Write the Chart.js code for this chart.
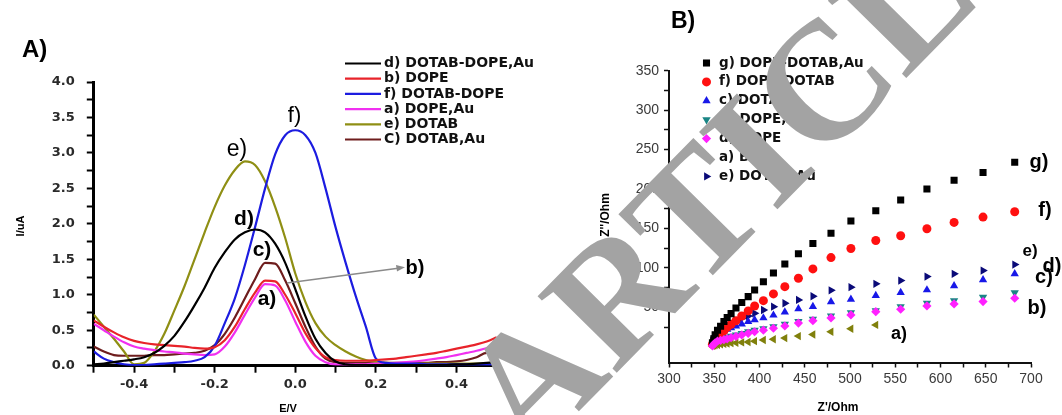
<!DOCTYPE html>
<html>
<head>
<meta charset="utf-8">
<script src="https://cdn.jsdelivr.net/npm/chart.js@4.4.1/dist/chart.umd.min.js"></script>
<style>
  html, body { margin: 0; padding: 0; background: #fff; }
  #wrap { position: relative; width: 1062px; height: 415px; overflow: hidden; }
  .panel { position: absolute; top: 0; height: 415px; }
  #pa { left: 0; width: 560px; }
  #pb { left: 531px; width: 531px; }
  #mark { position: absolute; left: 0; top: 0; pointer-events: none; }
</style>
</head>
<body>
<div id="wrap">
  <div class="panel" id="pa"><canvas id="cvA"></canvas></div>
  <div class="panel" id="pb"><canvas id="cvB"></canvas></div>
  <canvas id="mark" width="1062" height="415"></canvas>
</div>
<script>
  // ---- Panel A: voltammograms (E / V vs I / uA) ----
  const potential = [-0.5, -0.475, -0.45, -0.425, -0.4, -0.375, -0.35, -0.325, -0.3, -0.275,
    -0.25, -0.225, -0.2, -0.175, -0.15, -0.125, -0.1, -0.075, -0.05, -0.025,
    0, 0.025, 0.05, 0.075, 0.1, 0.125, 0.15, 0.175, 0.2, 0.225,
    0.25, 0.275, 0.3, 0.325, 0.35, 0.375, 0.4, 0.425, 0.45, 0.475, 0.5];

  const curDotabDopeAu = [0.02, 0.03, 0.05, 0.07, 0.09, 0.12, 0.18, 0.28, 0.42, 0.62,
    0.85, 1.1, 1.38, 1.6, 1.78, 1.88, 1.92, 1.88, 1.72, 1.45,
    1.08, 0.7, 0.38, 0.18, 0.06, 0.02, 0.01, 0.01, 0.01, 0.01,
    0.01, 0.01, 0.01, 0.01, 0.01, 0.01, 0.02, 0.02, 0.03, 0.04, 0.05];
  const curDope = [0.64, 0.55, 0.47, 0.4, 0.35, 0.32, 0.3, 0.29, 0.28, 0.27,
    0.25, 0.24, 0.26, 0.36, 0.55, 0.8, 1.03, 1.2, 1.19, 1.0,
    0.74, 0.46, 0.25, 0.12, 0.08, 0.07, 0.07, 0.07, 0.08, 0.09,
    0.1, 0.12, 0.14, 0.16, 0.18, 0.21, 0.24, 0.27, 0.3, 0.34, 0.4];
  const curDotabDope = [0.2, 0.1, 0.05, 0.02, 0.01, 0.01, 0.02, 0.03, 0.04, 0.05,
    0.07, 0.12, 0.28, 0.6, 0.95, 1.42, 1.95, 2.5, 2.98, 3.25,
    3.32, 3.25, 3.0, 2.5, 1.95, 1.45, 0.98, 0.55, 0.1, 0.04,
    0.03, 0.03, 0.03, 0.02, 0.02, 0.02, 0.02, 0.02, 0.02, 0.02, 0.02];
  const curDopeAu = [0.59, 0.5, 0.41, 0.33, 0.27, 0.24, 0.22, 0.2, 0.19, 0.17,
    0.16, 0.15, 0.16, 0.27, 0.47, 0.72, 0.96, 1.15, 1.13, 0.92,
    0.62, 0.34, 0.14, 0.05, 0.02, 0.02, 0.02, 0.02, 0.03, 0.03,
    0.04, 0.05, 0.06, 0.08, 0.1, 0.12, 0.15, 0.18, 0.21, 0.25, 0.29];
  const curDotab = [0.72, 0.55, 0.38, 0.2, 0.02, 0.04, 0.2, 0.45, 0.78, 1.12,
    1.5, 1.88, 2.24, 2.54, 2.76, 2.88, 2.83, 2.6, 2.24, 1.8,
    1.3, 0.9, 0.6, 0.41, 0.29, 0.2, 0.13, 0.08, 0.05, 0.04,
    0.03, 0.03, 0.03, 0.03, 0.03, 0.03, 0.03, 0.03, 0.03, 0.03, 0.03];
  const curDotabAu = [0.27, 0.2, 0.15, 0.14, 0.14, 0.14, 0.15, 0.15, 0.16, 0.17,
    0.18, 0.21, 0.29, 0.45, 0.68, 0.95, 1.22, 1.45, 1.44, 1.2,
    0.88, 0.55, 0.27, 0.1, 0.05, 0.04, 0.04, 0.04, 0.04, 0.04,
    0.04, 0.04, 0.04, 0.04, 0.05, 0.05, 0.06, 0.08, 0.12, 0.18, 0.18];

  const seriesA = [
    { label: "d) DOTAB-DOPE,Au", color: "#000000", values: curDotabDopeAu },
    { label: "b) DOPE", color: "#e8232a", values: curDope },
    { label: "f) DOTAB-DOPE", color: "#1c1ce0", values: curDotabDope },
    { label: "a) DOPE,Au", color: "#f030f0", values: curDopeAu },
    { label: "e) DOTAB", color: "#8f8f14", values: curDotab },
    { label: "C) DOTAB,Au", color: "#6e1d1d", values: curDotabAu }
  ];

  // ---- Panel B: Nyquist plots (Z' / Ohm vs Z'' / Ohm) ----
  const zReal = [348, 349.5, 351, 353.6, 357, 360.7, 364.3, 368.6, 374, 380.4,
    387.5, 394.6, 404.3, 415.4, 428, 443, 459, 479, 501, 528.5,
    556, 585, 615, 647, 682];

  const zImDopeDotabAu = [5, 10, 15, 21, 26, 32, 37, 42, 49, 56,
    63.5, 72, 82.5, 93.5, 105, 118, 131, 144, 159.5, 172.5,
    186, 200, 211, 221, 234];
  const zImDopeDotab = [3, 6, 9.4, 12.7, 17, 20.3, 24.7, 28.5, 33, 39,
    45.4, 51.7, 58.4, 67, 76.2, 86.9, 98.7, 113, 124.5, 134.7,
    140.7, 149.6, 157.6, 164.4, 171.2];
  const zImDotab = [6, 9, 12, 15, 17.5, 20, 22, 24, 26.3, 28.8,
    31.8, 34, 36.5, 40, 44, 48, 51, 57, 60.2, 64.8,
    68.6, 72, 77.1, 84.8, 92.4];
  const zImDopeAu = [2, 4, 6, 8, 9.5, 11, 12, 13.5, 15, 17,
    19, 21, 23, 25.5, 28.5, 32, 35, 39, 43.2, 45.7,
    50.8, 55.1, 58.4, 62.8, 68.6];
  const zImDope = [1, 3, 5, 7, 8, 9, 10, 11.5, 13, 15,
    17, 19, 21, 23.4, 26.3, 30, 33, 36.5, 40.3, 44.5,
    47.5, 51.7, 54.3, 57.2, 61.5];
  const zImBare = [1, 1.5, 2, 2.5, 3, 3.5, 4, 4.5, 5, 5.5,
    6, 7, 8.5, 9.5, 11, 13.5, 15.5, 19, 22.8, 27.6,
    null, null, null, null, null];
  const zImDotabAu = [7, 10, 13.6, 17, 20.3, 23.4, 26.7, 29.7, 33, 36,
    39, 42.4, 46.6, 50.8, 55.1, 59.3, 64, 71.5, 75.5, 79.7,
    83.9, 88.9, 92.4, 96.6, 104.2];

  const seriesB = [
    { label: "g) DOPE-DOTAB,Au", color: "#000000", shape: "rect", rot: 0, r: 5, values: zImDopeDotabAu },
    { label: "f) DOPE-DOTAB", color: "#ff1010", shape: "circle", rot: 0, r: 4.5, values: zImDopeDotab },
    { label: "c) DOTAB", color: "#1818e8", shape: "triangle", rot: 0, r: 4.8, values: zImDotab },
    { label: "b) DOPE,Au", color: "#1a8585", shape: "triangle", rot: 180, r: 4.8, values: zImDopeAu },
    { label: "d) DOPE", color: "#ff20ff", shape: "rectRot", rot: 0, r: 4.6, values: zImDope },
    { label: "a) Bare", color: "#80800c", shape: "triangle", rot: -90, r: 4.8, values: zImBare },
    { label: "e) DOTAB,Au", color: "#0a0a78", shape: "triangle", rot: 90, r: 4.8, values: zImDotabAu }
  ];

  function drawMarker(ctx, s, x, y) {
    ctx.save();
    ctx.fillStyle = s.color;
    ctx.beginPath();
    if (s.shape === "rect") {
      const h = s.r * Math.SQRT1_2;
      ctx.rect(x - h, y - h, 2 * h, 2 * h);
    } else if (s.shape === "circle") {
      ctx.arc(x, y, s.r, 0, Math.PI * 2);
    } else if (s.shape === "rectRot") {
      ctx.moveTo(x, y - s.r); ctx.lineTo(x + s.r, y);
      ctx.lineTo(x, y + s.r); ctx.lineTo(x - s.r, y);
      ctx.closePath();
    } else {
      let a = s.rot * Math.PI / 180;
      for (let k = 0; k < 3; k++) {
        const px = x + Math.sin(a) * s.r, py = y - Math.cos(a) * s.r;
        k === 0 ? ctx.moveTo(px, py) : ctx.lineTo(px, py);
        a += Math.PI * 2 / 3;
      }
      ctx.closePath();
    }
    ctx.fill();
    ctx.restore();
  }

  function label(ctx, text, x, y, font, opts) {
    ctx.save();
    ctx.font = font;
    ctx.fillStyle = (opts && opts.color) || "#000";
    ctx.textAlign = (opts && opts.align) || "center";
    ctx.textBaseline = "middle";
    ctx.translate(x, y);
    if (opts && opts.rotate) ctx.rotate(opts.rotate);
    ctx.fillText(text, 0, 0);
    ctx.restore();
  }

  const overlayA = {
    id: "overlayA",
    afterDraw(chart) {
      const ctx = chart.ctx;
      label(ctx, "A)", 22, 50, "bold 24px 'Liberation Sans'", { align: "left" });
      label(ctx, "I/uA", 21, 226, "bold 11px 'Liberation Sans'", { rotate: -Math.PI / 2 });
      label(ctx, "E/V", 288, 409, "bold 11px 'Liberation Sans'");
      // legend
      seriesA.forEach((s, i) => {
        const y = 63.5 + i * 15.2;
        ctx.save();
        ctx.strokeStyle = s.color;
        ctx.lineWidth = 2.2;
        ctx.beginPath(); ctx.moveTo(345, y); ctx.lineTo(381, y); ctx.stroke();
        ctx.restore();
        label(ctx, s.label, 384, y, "bold 14px 'DejaVu Sans'", { align: "left", color: "#111" });
      });
      // curve tags
      label(ctx, "f)", 294.5, 116, "22px 'Liberation Sans'");
      label(ctx, "e)", 237, 149.5, "23px 'Liberation Sans'");
      label(ctx, "d)", 244, 219, "bold 21px 'Liberation Sans'");
      label(ctx, "c)", 262, 250, "bold 21px 'Liberation Sans'");
      label(ctx, "a)", 267, 299, "bold 21px 'Liberation Sans'");
      label(ctx, "b)", 415, 268, "bold 20px 'Liberation Sans'");
      // arrow to b)
      ctx.save();
      ctx.strokeStyle = "#8a8a8a"; ctx.fillStyle = "#8a8a8a"; ctx.lineWidth = 1.4;
      ctx.beginPath(); ctx.moveTo(287, 283); ctx.lineTo(400, 268); ctx.stroke();
      ctx.beginPath(); ctx.moveTo(405, 267.3); ctx.lineTo(396, 265); ctx.lineTo(397, 271.5); ctx.closePath(); ctx.fill();
      ctx.restore();
    }
  };

  const overlayB = {
    id: "overlayB",
    afterDraw(chart) {
      const ctx = chart.ctx;
      label(ctx, "B)", 140, 22, "bold 23px 'Liberation Sans'", { align: "left" });
      label(ctx, "Z''/Ohm", 75, 215, "bold 12px 'Liberation Sans'", { rotate: -Math.PI / 2 });
      label(ctx, "Z'/Ohm", 307, 408, "bold 12px 'Liberation Sans'");
      seriesB.forEach((s, i) => {
        const y = 63 + i * 18.9;
        drawMarker(ctx, s, 175.5, y);
        label(ctx, s.label, 188, y, "bold 13.5px 'DejaVu Sans'", { align: "left", color: "#111" });
      });
      label(ctx, "g)", 508, 162, "bold 20px 'Liberation Sans'");
      label(ctx, "f)", 514, 210, "bold 20px 'Liberation Sans'");
      label(ctx, "e)", 499, 251, "bold 17px 'Liberation Sans'");
      label(ctx, "d)", 521, 266, "bold 20px 'Liberation Sans'");
      label(ctx, "c)", 513, 277, "bold 20px 'Liberation Sans'");
      label(ctx, "b)", 506, 308, "bold 20px 'Liberation Sans'");
      label(ctx, "a)", 368, 334, "bold 18px 'Liberation Sans'");
    }
  };

  function fixedWidth(w) { return (s) => { s.width = w; }; }
  function fixedHeight(h) { return (s) => { s.height = h; }; }

  new Chart(document.getElementById("cvA"), {
    type: "line",
    data: {
      datasets: seriesA.map((s) => ({
        label: s.label,
        data: potential.map((e, i) => ({ x: e, y: s.values[i] })),
        borderColor: s.color,
        borderWidth: 2.2,
        pointRadius: 0,
        fill: false,
        cubicInterpolationMode: "monotone"
      }))
    },
    options: {
      responsive: true,
      maintainAspectRatio: false,
      animation: false,
      layout: { padding: { left: 0, top: 82, right: 63.2, bottom: 19.3 } },
      plugins: { legend: { display: false }, tooltip: { enabled: false } },
      scales: {
        x: {
          type: "linear", min: -0.5, max: 0.5,
          afterFit: fixedHeight(30),
          border: { color: "#000", width: 3 },
          grid: { drawOnChartArea: false, tickLength: 7, tickWidth: 2, tickColor: "#000" },
          ticks: {
            stepSize: 0.1, autoSkip: false, maxRotation: 0, padding: 4, color: "#2a2a2a",
            font: { family: "DejaVu Sans", weight: "bold", size: 13 },
            callback: (v) => (Math.round(v * 10) % 2 === 0 && Math.abs(v) < 0.45) ? v.toFixed(1) : ""
          }
        },
        y: {
          min: 0, max: 4,
          afterFit: fixedWidth(93.8),
          border: { color: "#000", width: 3 },
          grid: { drawOnChartArea: false, tickLength: 7, tickWidth: 2, tickColor: "#000" },
          ticks: {
            stepSize: 0.25, autoSkip: false, padding: 12, color: "#2a2a2a",
            font: { family: "DejaVu Sans", weight: "bold", size: 13 },
            callback: (v) => Math.round(v * 4) % 2 === 0 ? v.toFixed(1) : ""
          }
        }
      }
    },
    plugins: [overlayA]
  });

  new Chart(document.getElementById("cvB"), {
    type: "scatter",
    data: {
      datasets: seriesB.map((s) => ({
        label: s.label,
        data: zReal.map((x, i) => ({ x: x, y: s.values[i] })).filter((p) => p.y !== null),
        backgroundColor: s.color,
        borderColor: s.color,
        borderWidth: 0,
        pointStyle: s.shape,
        pointRotation: s.rot,
        pointRadius: s.r,
        order: s.shape === "rectRot" ? 0 : 1
      }))
    },
    options: {
      responsive: true,
      maintainAspectRatio: false,
      animation: false,
      layout: { padding: { left: 0, top: 70.7, right: 31, bottom: 22.5 } },
      plugins: { legend: { display: false }, tooltip: { enabled: false } },
      scales: {
        x: {
          type: "linear", min: 300, max: 700,
          afterFit: fixedHeight(30),
          border: { color: "#111", width: 2 },
          grid: { drawOnChartArea: false, tickLength: 5, tickWidth: 1.5, tickColor: "#111" },
          ticks: {
            stepSize: 25, autoSkip: false, maxRotation: 0, padding: 3, color: "#3a3a3a",
            font: { family: "Liberation Sans", size: 14 },
            callback: (v) => v % 50 === 0 ? String(v) : ""
          }
        },
        y: {
          min: -20, max: 350,
          afterFit: fixedWidth(138),
          afterBuildTicks: (s) => { s.ticks = s.ticks.filter((t) => t.value >= 0); },
          border: { color: "#111", width: 2 },
          grid: { drawOnChartArea: false, tickLength: 5, tickWidth: 1.5, tickColor: "#111" },
          ticks: {
            stepSize: 25, autoSkip: false, padding: 5, color: "#3a3a3a",
            font: { family: "Liberation Sans", size: 14 },
            callback: (v) => v % 50 === 0 ? String(v) : ""
          }
        }
      }
    },
    plugins: [overlayB]
  });

  // diagonal watermark laid over both panels
  const wm = document.getElementById("mark").getContext("2d");
  wm.fillStyle = "#a3a3a3";
  wm.font = "bold 168px 'Liberation Serif'";
  wm.translate(529, 462);
  wm.rotate(-45.5 * Math.PI / 180);
  const lead = "RETRACTED ";
  wm.fillText(lead, -wm.measureText(lead).width, 0);
  wm.fillText("ARTICLE", 0, 0);
</script>
</body>
</html>
